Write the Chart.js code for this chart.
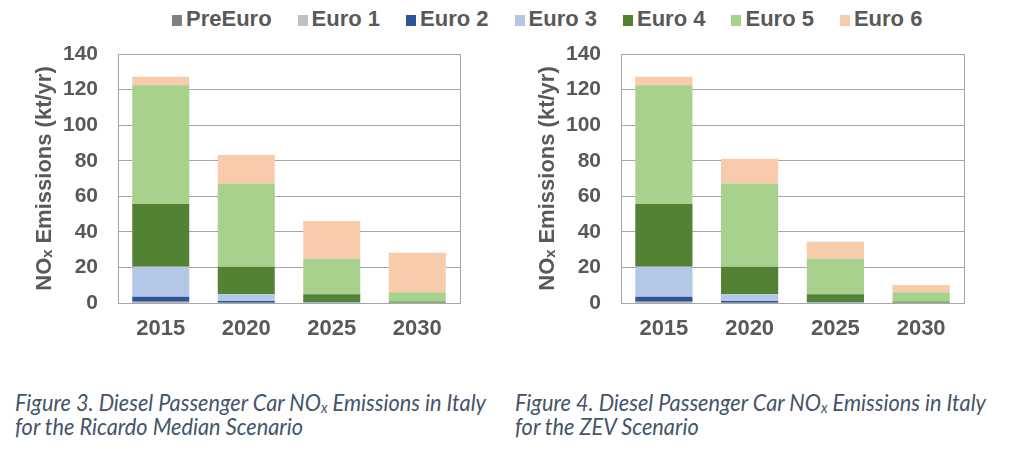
<!DOCTYPE html>
<html>
<head>
<meta charset="utf-8">
<script src="https://cdn.jsdelivr.net/npm/chart.js@4.4.1/dist/chart.umd.min.js"></script>
<style>
  html, body { margin: 0; padding: 0; background: #ffffff; }
  body { width: 1024px; height: 460px; position: relative; overflow: hidden; }
  #legend { position: absolute; left: 172px; top: 5px; height: 28px; display: flex; align-items: center;
    font-family: "Liberation Sans", Arial, sans-serif; font-weight: bold; font-size: 22px; color: #595959; white-space: nowrap; }
  .item { display: flex; align-items: center; margin-right: 26px; }
  .box { width: 10px; height: 11px; margin-right: 4px; margin-top: 2px; }
  .chartbox { position: absolute; top: 0; height: 360px; }
  .caption { position: absolute; font-family: Lato, "Open Sans", sans-serif; font-style: italic; color: #44546A;
    line-height: 22px; white-space: nowrap; transform: scaleY(1.1); transform-origin: 0 0; }
  .caption sub { font-size: 0.65em; vertical-align: -0.15em; line-height: 0; }
</style>
</head>
<body>
<div id="legend"></div>
<div class="chartbox" style="left:0px; width:480px;"><canvas id="c1"></canvas></div>
<div class="chartbox" style="left:503px; width:481px;"><canvas id="c2"></canvas></div>
<div class="caption" id="cap1" style="left:15px; top:390px;">Figure 3. Diesel Passenger Car NO<sub>x</sub> Emissions in Italy<br>for the Ricardo Median Scenario</div>
<div class="caption" id="cap2" style="left:515px; top:390px;">Figure 4. Diesel Passenger Car NO<sub>x</sub> Emissions in Italy<br>for the ZEV Scenario</div>
<script>
const years = ['2015', '2020', '2025', '2030'];
const seriesNames = ['PreEuro', 'Euro 1', 'Euro 2', 'Euro 3', 'Euro 4', 'Euro 5', 'Euro 6'];
const seriesColors = ['#7F7F7F', '#BFBFBF', '#2F5597', '#B4C7E7', '#548235', '#A9D18E', '#F8CBAD'];
const yTicks = [0, 20, 40, 60, 80, 100, 120, 140];

// Figure 3 – Ricardo Median Scenario (kt/yr)
const medianPreEuro = [0.2, 0.0, 0.0, 0.0];
const medianEuro1   = [0.5, 0.2, 0.0, 0.0];
const medianEuro2   = [2.8, 0.9, 0.2, 0.0];
const medianEuro3   = [16.9, 3.8, 0.4, 0.1];
const medianEuro4   = [35.3, 15.5, 4.3, 0.8];
const medianEuro5   = [66.7, 46.8, 20.0, 5.1];
const medianEuro6   = [4.8, 16.0, 21.2, 22.2];

// Figure 4 – ZEV Scenario (kt/yr)
const zevPreEuro = [0.2, 0.0, 0.0, 0.0];
const zevEuro1   = [0.5, 0.2, 0.0, 0.0];
const zevEuro2   = [2.8, 0.9, 0.2, 0.0];
const zevEuro3   = [16.9, 3.8, 0.4, 0.1];
const zevEuro4   = [35.3, 15.5, 4.3, 0.8];
const zevEuro5   = [66.7, 46.8, 20.1, 5.1];
const zevEuro6   = [4.8, 13.9, 9.5, 4.1];

const medianSeries = [medianPreEuro, medianEuro1, medianEuro2, medianEuro3, medianEuro4, medianEuro5, medianEuro6];
const zevSeries = [zevPreEuro, zevEuro1, zevEuro2, zevEuro3, zevEuro4, zevEuro5, zevEuro6];

// HTML legend from the series arrays
const legend = document.getElementById('legend');
seriesNames.forEach((n, i) => {
  const it = document.createElement('div'); it.className = 'item';
  const b = document.createElement('div'); b.className = 'box'; b.style.background = seriesColors[i];
  const t = document.createElement('span'); t.textContent = n;
  it.appendChild(b); it.appendChild(t); legend.appendChild(it);
});

// Fit caption font size to the reference width
(function () {
  const ctx = document.createElement('canvas').getContext('2d');
  ctx.font = 'italic 20px Lato';
  const w = ctx.measureText('Figure 3. Diesel Passenger Car NOx Emissions in Italy').width;
  const size = Math.max(14, Math.min(24, 20 * 475 / w));
  document.querySelectorAll('.caption').forEach(c => c.style.fontSize = size.toFixed(2) + 'px');
})();

const gridColor = '#A6A6A6';
const textColor = '#595959';
const fontFam = '"Liberation Sans", Arial, sans-serif';

const frame = {
  id: 'frame',
  afterDatasetsDraw(chart) {
    const a = chart.chartArea, ctx = chart.ctx;
    ctx.save();
    ctx.strokeStyle = gridColor; ctx.lineWidth = 1;
    ctx.strokeRect(Math.round(a.left) + 0.5, Math.round(a.top) + 0.5, Math.round(a.right - a.left), Math.round(a.bottom - a.top));
    ctx.restore();
  }
};

function makeChart(id, series) {
  return new Chart(document.getElementById(id), {
    type: 'bar',
    data: {
      labels: years,
      datasets: series.map((d, i) => ({
        label: seriesNames[i], data: d, backgroundColor: seriesColors[i], borderWidth: 0,
        categoryPercentage: 1.0, barPercentage: 0.667
      }))
    },
    options: {
      responsive: true, maintainAspectRatio: false, animation: false,
      layout: { padding: { top: 54, right: 20, left: 0, bottom: 0 } },
      plugins: { legend: { display: false }, tooltip: { enabled: false } },
      scales: {
        x: {
          stacked: true,
          grid: { display: false, drawTicks: false },
          border: { display: true, color: gridColor },
          ticks: { color: textColor, font: { family: fontFam, size: 22, weight: 'bold' }, padding: 13 },
          afterFit(s) { s.height = 57; }
        },
        y: {
          stacked: true, min: 0, max: 140,
          afterBuildTicks(s) { s.ticks = yTicks.map(v => ({ value: v })); },
          grid: { color: gridColor, drawTicks: false },
          border: { display: true, color: gridColor },
          ticks: { color: textColor, font: { family: fontFam, size: 21, weight: 'bold' }, padding: 20 },
          title: { display: true, text: 'NOₓ Emissions (kt/yr)', color: textColor,
                   font: { family: fontFam, size: 22, weight: 'bold' }, padding: { top: 32, bottom: 0 } },
          afterFit(s) { s.width = 118; }
        }
      }
    },
    plugins: [frame]
  });
}

makeChart('c1', medianSeries);
makeChart('c2', zevSeries);
</script>
</body>
</html>
